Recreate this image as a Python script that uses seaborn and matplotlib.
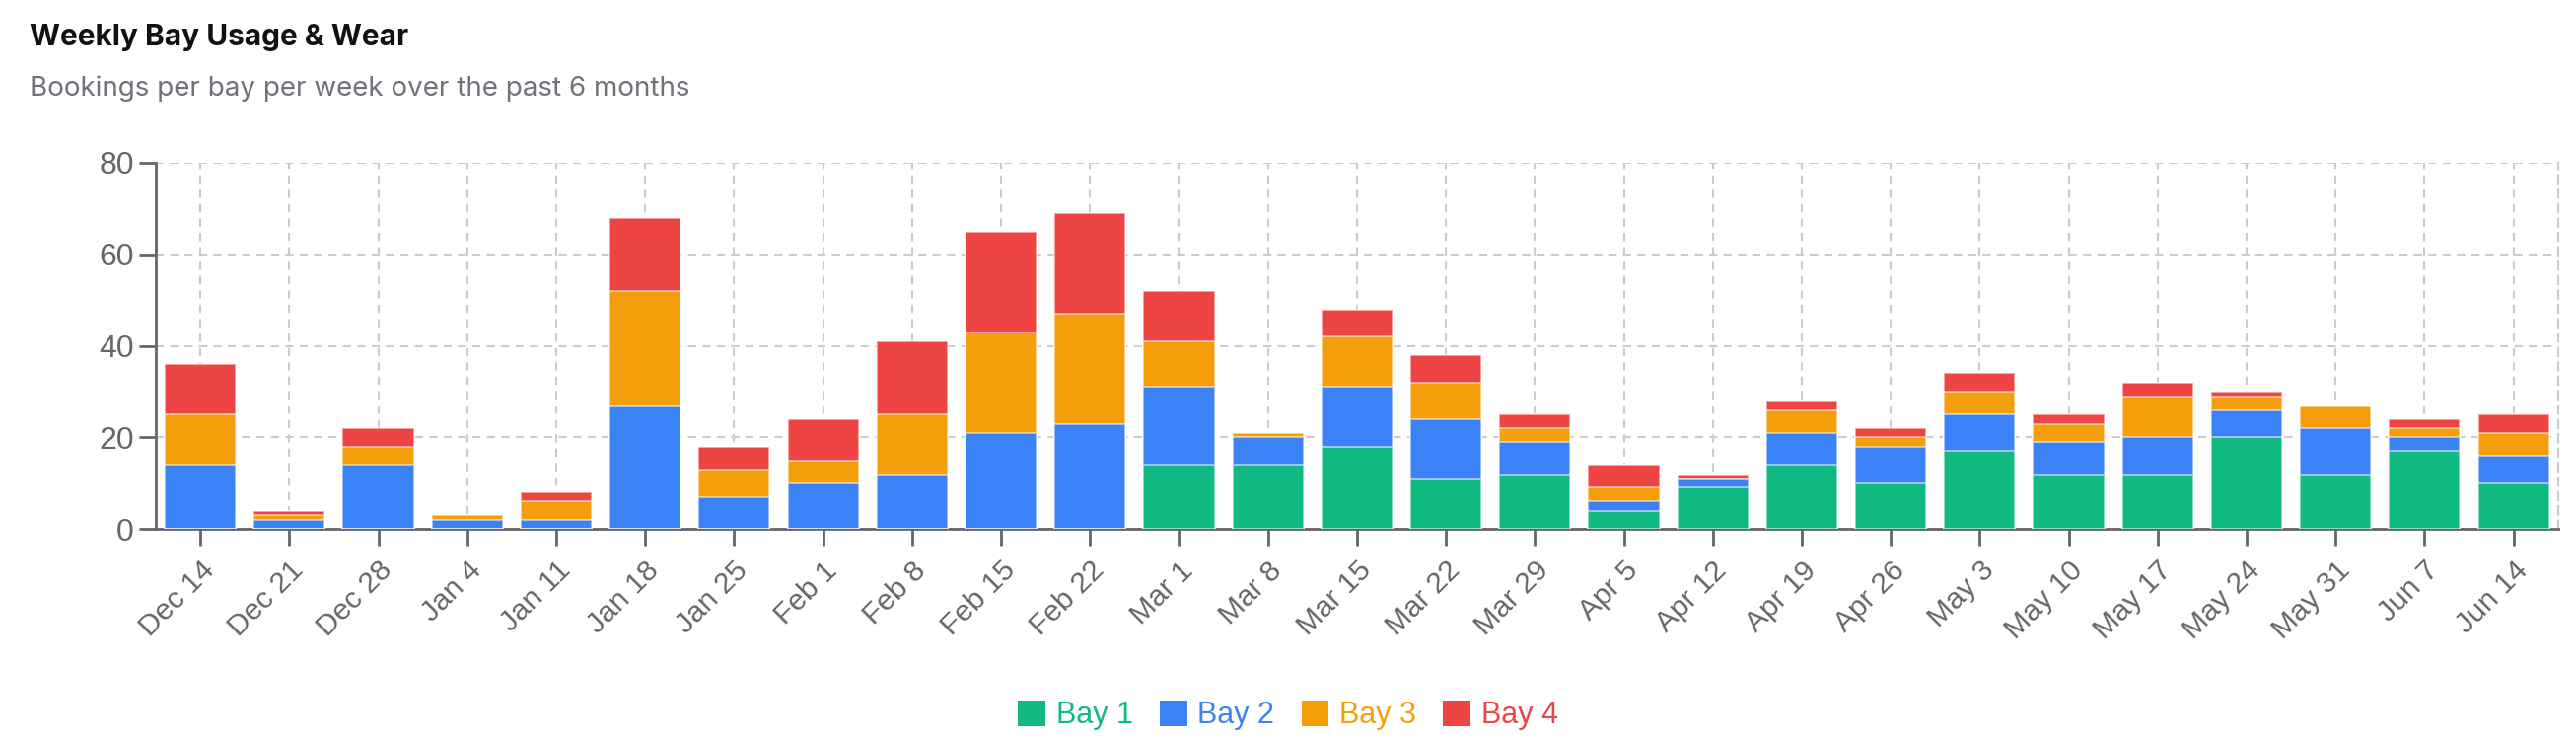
import numpy as np
import pandas as pd
import matplotlib
matplotlib.use("Agg")
import matplotlib.pyplot as plt
import seaborn as sns
from matplotlib.patches import Patch

weeks = ["Dec 14", "Dec 21", "Dec 28", "Jan 4", "Jan 11", "Jan 18", "Jan 25",
         "Feb 1", "Feb 8", "Feb 15", "Feb 22", "Mar 1", "Mar 8", "Mar 15",
         "Mar 22", "Mar 29", "Apr 5", "Apr 12", "Apr 19", "Apr 26", "May 3",
         "May 10", "May 17", "May 24", "May 31", "Jun 7", "Jun 14"]
bay1 = [0, 0, 0, 0, 0, 0, 0, 0, 0, 0, 0, 14, 14, 18, 11, 12, 4, 9, 14, 10, 17,
        12, 12, 20, 12, 17, 10]
bay2 = [14, 2, 14, 2, 2, 27, 7, 10, 12, 21, 23, 17, 6, 13, 13, 7, 2, 2, 7, 8, 8,
        7, 8, 6, 10, 3, 6]
bay3 = [11, 1, 4, 1, 4, 25, 6, 5, 13, 22, 24, 10, 1, 11, 8, 3, 3, 0, 5, 2, 5,
        4, 9, 3, 5, 2, 5]
bay4 = [11, 1, 4, 0, 2, 16, 5, 9, 16, 22, 22, 11, 0, 6, 6, 3, 5, 1, 2, 2, 4,
        2, 3, 1, 0, 2, 4]
series = ["Bay 1", "Bay 2", "Bay 3", "Bay 4"]
colors = ["#10b981", "#3b82f6", "#f59e0b", "#ef4444"]

df = pd.DataFrame({"week": weeks, "Bay 1": bay1, "Bay 2": bay2,
                   "Bay 3": bay3, "Bay 4": bay4})
cum = df[series].cumsum(axis=1)
cum["week"] = df["week"]

sns.set_style("white")
plt.rcParams["font.family"] = ["Liberation Sans", "DejaVu Sans"]

fig = plt.figure(figsize=(26.12, 7.5), dpi=100)
ax = fig.add_axes([0.0605, 0.285, 0.9325, 0.495])

grid_c = "#cccccc"
text_c = "#666666"
dash = (0, (4, 3))

# stacked bars: draw cumulative totals from top series down
for name, col in reversed(list(zip(series, colors))):
    sns.barplot(data=cum, x="week", y=name, color=col, width=0.8,
                saturation=1, edgecolor=(1, 1, 1, 0.6), linewidth=1.2,
                ax=ax, zorder=3)

ax.set_xlim(-0.5, len(weeks) - 0.5)
ax.set_ylim(0, 80)
ax.set_yticks([0, 20, 40, 60, 80])
ax.set_xlabel("")
ax.set_ylabel("")

ax.grid(True, color=grid_c, linestyle=dash, linewidth=1.5, zorder=0)
ax.set_axisbelow(True)
ax.spines["top"].set_visible(False)
ax.spines["right"].set_color(grid_c)
ax.spines["right"].set_linestyle(dash)
ax.spines["right"].set_linewidth(1.5)
ax.spines["left"].set_color(text_c)
ax.spines["bottom"].set_color(text_c)
ax.spines["left"].set_linewidth(2)
ax.spines["bottom"].set_linewidth(2)

ax.tick_params(axis="y", length=12, width=2, color=text_c, labelcolor=text_c,
               labelsize=23, pad=4, left=True)
ax.tick_params(axis="x", length=12, width=2, color=text_c, labelcolor=text_c,
               labelsize=21.5, pad=8, bottom=True)
plt.setp(ax.get_xticklabels(), rotation=45, ha="right", rotation_mode="anchor")

fig.text(0.0115, 0.949, "Weekly Bay Usage & Wear", fontsize=21.5,
         fontweight="bold", color="#111111", family=["Inter", "DejaVu Sans"],
         va="center")
fig.text(0.0115, 0.88, "Bookings per bay per week over the past 6 months",
         fontsize=20, color="#71717a", family=["Inter", "DejaVu Sans"],
         va="center")

handles = [Patch(facecolor=c, edgecolor="none") for c in colors]
leg = fig.legend(handles, series, loc="center", bbox_to_anchor=(0.5, 0.033),
                 ncol=4, frameon=False, fontsize=22, handlelength=0.9,
                 handleheight=0.9, handletextpad=0.35, columnspacing=0.9)
for t, c in zip(leg.get_texts(), colors):
    t.set_color(c)

fig.savefig("out.png", dpi=100)
